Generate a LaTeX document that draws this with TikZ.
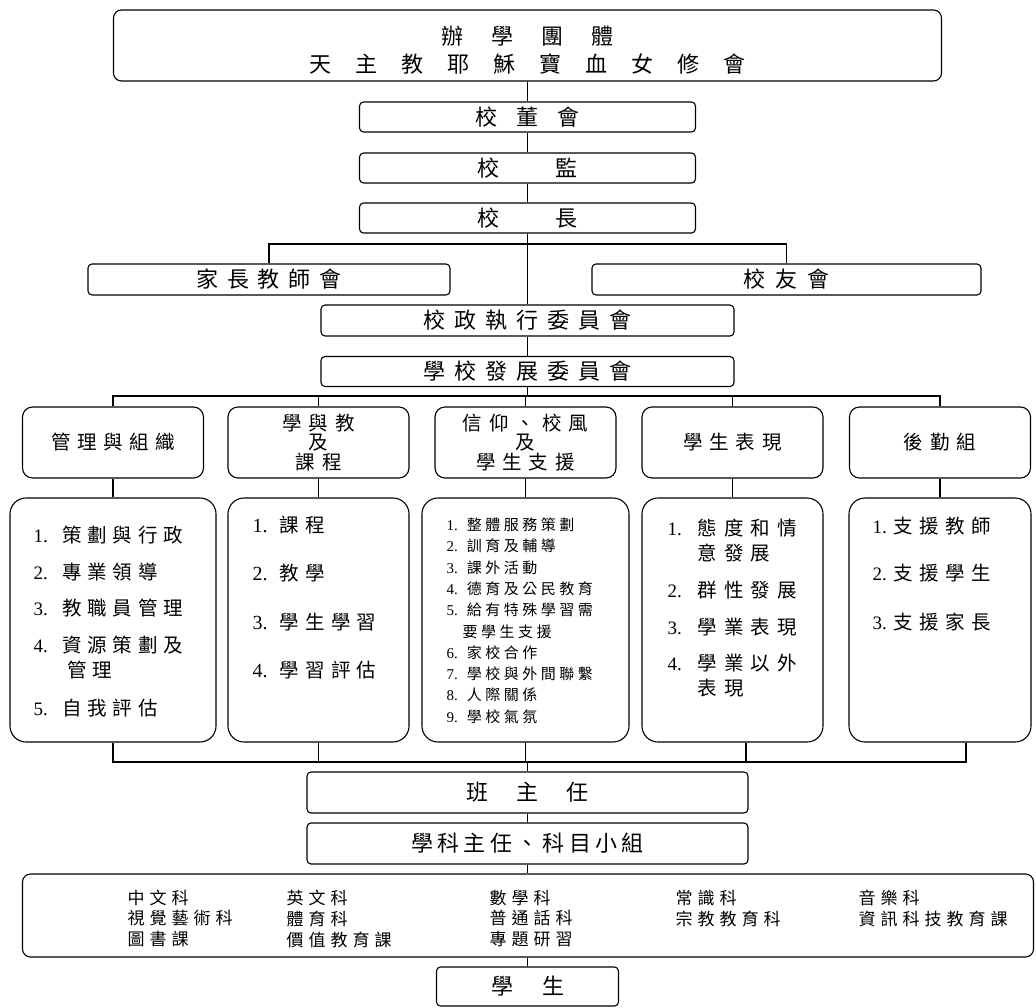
\documentclass[tikz,border=0pt]{standalone}
\usepackage{fontspec}
\newfontfamily\cjk{Noto Sans CJK TC}
\newfontfamily\digf{Liberation Serif}
\makeatletter
\newcommand\lsp[2]{\def\lsp@gap{\hspace{#1}}\lsp@first#2\lsp@end}
\def\lsp@end{}
\def\lsp@first#1{#1\lsp@next}
\def\lsp@next#1{\ifx#1\lsp@end\else\lsp@gap#1\expandafter\lsp@next\fi}
\makeatother
\newcommand\dg[2][19]{{\digf\fontsize{#1}{#1}\selectfont #2}}
\begin{document}
\begin{tikzpicture}[x=1pt,y=-1pt,line width=1.1pt,
 box/.style={draw, rounded corners=4pt, inner sep=0pt, font=\cjk\fontsize{22}{24}\selectfont},
 cat/.style={draw, rounded corners=10pt, inner sep=0pt, minimum width=181pt, minimum height=71pt, align=center, font=\cjk\fontsize{19.5}{19.5}\selectfont},
 det/.style={draw, rounded corners=16pt, inner sep=0pt, minimum height=244pt},
 it/.style={anchor=west, inner sep=0pt, font=\cjk\fontsize{19.5}{20}\selectfont},
 its/.style={anchor=west, inner sep=0pt, font=\cjk\fontsize{15}{16}\selectfont},
 sub/.style={anchor=west, inner sep=0pt, font=\cjk\fontsize{17}{18}\selectfont}]
\useasboundingbox (0,0) rectangle (1036,1007);
% top chain
\node[box, rounded corners=8pt, minimum width=828pt, minimum height=71pt] (org) at (527.5,45.5) {};
\node[inner sep=0pt, align=center, font=\cjk\fontsize{22}{28}\selectfont] (orgtxt) at (527.5,50) {\lsp{28pt}{辦學團體}\\\lsp{24pt}{天主教耶穌寶血女修會}};
\node[box, minimum width=336pt, minimum height=30pt] (board) at (527.5,117) {\lsp{19pt}{校董會}};
\node[box, minimum width=336pt, minimum height=30pt] (sup) at (527.5,168) {\lsp{56pt}{校監}};
\node[box, minimum width=336pt, minimum height=30pt] (prin) at (527.5,218) {\lsp{56pt}{校長}};
\node[box, minimum width=362pt, minimum height=31pt] (pta) at (269,279.5) {\lsp{9pt}{家長教師會}};
\node[box, minimum width=389pt, minimum height=31pt] (alum) at (786.5,279.5) {\lsp{10pt}{校友會}};
\node[box, minimum width=413pt, minimum height=31pt] (exec) at (527.5,320.5) {\lsp{9pt}{校政執行委員會}};
\node[box, minimum width=413pt, minimum height=30pt] (dev) at (527.5,371.5) {\lsp{9pt}{學校發展委員會}};
% categories
\node[cat] (c1) at (113,442.5) {\lsp{6.6pt}{管理與組織}};
\node[cat] (c2) at (318.5,442.5) {\lsp{7pt}{學與教}\\及\\\lsp{7.5pt}{課程}};
\node[cat] (c3) at (525.5,442.5) {\lsp{7pt}{信仰、校風}\\及\\\lsp{7pt}{學生支援}};
\node[cat] (c4) at (732.5,442.5) {\lsp{7pt}{學生表現}};
\node[cat] (c5) at (940,442.5) {\lsp{7pt}{後勤組}};
% detail boxes
\node[det, minimum width=206pt] (d1) at (113,620) {};
\node[det, minimum width=181pt] (d2) at (318.5,620) {};
\node[det, minimum width=207pt] (d3) at (525.5,620) {};
\node[det, minimum width=181pt] (d4) at (732.5,620) {};
\node[det, minimum width=182pt] (d5) at (940,620) {};
% bottom chain
\node[box, minimum width=441pt, minimum height=41pt] (cls) at (527.5,792.5) {\lsp{28.5pt}{班主任}};
\node[box, minimum width=441pt, minimum height=41pt] (shead) at (527.5,843.5) {\lsp{4.25pt}{學科主任、科目小組}};
\node[box, rounded corners=8pt, minimum width=1011pt, minimum height=83pt] (subj) at (528,915.5) {};
\node[box, minimum width=182pt, minimum height=39pt] (stu) at (527.5,986.5) {\lsp{29pt}{學生}};
% connectors
\coordinate (hb) at (527.5,244);
\coordinate (cb) at (527.5,396);
\coordinate (bb) at (527.5,762);
\coordinate (d4b) at ([xshift=13.5pt]d4.south);
\coordinate (d5b) at ([xshift=26pt]d5.south);
\draw (org) -- (board);
\draw (board) -- (sup);
\draw (sup) -- (prin);
\draw (prin) -- (exec);
\draw (exec) -- (dev);
\draw (pta.north) |- (hb) -| (alum.north);
\draw (dev) -- (cb);
\draw (c1.north) |- (cb) -| (c5.north);
\draw (c2.north) -- (c2.north |- cb);
\draw (c3.north) -- (c3.north |- cb);
\draw (c4.north) -- (c4.north |- cb);
\foreach \i in {1,...,5} {\draw (c\i) -- (d\i);}
\draw (d1.south) |- (bb) -| (d5b);
\draw (d2.south) -- (d2.south |- bb);
\draw (d3.south) -- (d3.south |- bb);
\draw (d4b) -- (d4b |- bb);
\draw (bb) -- (cls);
\draw (cls) -- (shead);
\draw (shead.south) -- (shead.south |- subj.north);
\draw (stu.north) -- (stu.north |- subj.south);
% box 1 text
\node[it] (t11) at (33,535) {\dg{1.}\hspace{15pt}\lsp{5.6pt}{策劃與行政}};
\node[it] (t12) at (33,572) {\dg{2.}\hspace{15pt}\lsp{5.6pt}{專業領導}};
\node[it] (t13) at (33,608) {\dg{3.}\hspace{15pt}\lsp{5.6pt}{教職員管理}};
\node[it] (t14) at (33,645) {\dg{4.}\hspace{15pt}\lsp{5.6pt}{資源策劃及}};
\node[it] (t14b) at (67,670) {\lsp{5.6pt}{管理}};
\node[it] (t15) at (33,708) {\dg{5.}\hspace{15pt}\lsp{5.6pt}{自我評估}};
% box 2 text
\node[it] (t21) at (252,525) {\dg[20]{1.}\hspace{12pt}\lsp{6.3pt}{課程}};
\node[it] (t22) at (252,573) {\dg[20]{2.}\hspace{12pt}\lsp{6.3pt}{教學}};
\node[it] (t23) at (252,622) {\dg[20]{3.}\hspace{12pt}\lsp{6.3pt}{學生學習}};
\node[it] (t24) at (252,670) {\dg[20]{4.}\hspace{12pt}\lsp{6.3pt}{學習評估}};
% box 3 text
\node[its] (t31) at (446,525) {\dg[15]{1.}\hspace{9pt}\lsp{3.5pt}{整體服務策劃}};
\node[its] (t32) at (446,546) {\dg[15]{2.}\hspace{9pt}\lsp{3.5pt}{訓育及輔導}};
\node[its] (t33) at (446,568) {\dg[15]{3.}\hspace{9pt}\lsp{3.5pt}{課外活動}};
\node[its] (t34) at (446,589) {\dg[15]{4.}\hspace{9pt}\lsp{3.5pt}{德育及公民教育}};
\node[its] (t35) at (446,610) {\dg[15]{5.}\hspace{9pt}\lsp{3.5pt}{給有特殊學習需}};
\node[its] (t35b) at (462,632) {\lsp{3.5pt}{要學生支援}};
\node[its] (t36) at (446,653) {\dg[15]{6.}\hspace{9pt}\lsp{3.5pt}{家校合作}};
\node[its] (t37) at (446,674) {\dg[15]{7.}\hspace{9pt}\lsp{3.5pt}{學校與外間聯繫}};
\node[its] (t38) at (446,695) {\dg[15]{8.}\hspace{9pt}\lsp{3.5pt}{人際關係}};
\node[its] (t39) at (446,717) {\dg[15]{9.}\hspace{9pt}\lsp{3.5pt}{學校氣氛}};
% box 4 text
\node[it] (t41) at (667,528) {\dg{1.}\hspace{16pt}\lsp{7pt}{態度和情}};
\node[it] (t41b) at (697,553) {\lsp{7pt}{意發展}};
\node[it] (t42) at (667,590) {\dg{2.}\hspace{16pt}\lsp{7pt}{群性發展}};
\node[it] (t43) at (667,627) {\dg{3.}\hspace{16pt}\lsp{7pt}{學業表現}};
\node[it] (t44) at (667,663) {\dg{4.}\hspace{16pt}\lsp{7pt}{學業以外}};
\node[it] (t44b) at (697,688) {\lsp{7pt}{表現}};
% box 5 text
\node[it] (t51) at (872,526) {\dg{1.}\hspace{7pt}\lsp{6.3pt}{支援教師}};
\node[it] (t52) at (872,573) {\dg{2.}\hspace{7pt}\lsp{6.3pt}{支援學生}};
\node[it] (t53) at (872,622) {\dg{3.}\hspace{7pt}\lsp{6.3pt}{支援家長}};
% subjects
\node[sub] (s11) at (127,898) {\lsp{5pt}{中文科}};
\node[sub] (s12) at (286,898) {\lsp{5pt}{英文科}};
\node[sub] (s13) at (489,898) {\lsp{5pt}{數學科}};
\node[sub] (s14) at (675,898) {\lsp{5pt}{常識科}};
\node[sub] (s15) at (858,898) {\lsp{5pt}{音樂科}};
\node[sub] (s21) at (127,918.5) {\lsp{5pt}{視覺藝術科}};
\node[sub] (s22) at (286,918.5) {\lsp{5pt}{體育科}};
\node[sub] (s23) at (489,918.5) {\lsp{5pt}{普通話科}};
\node[sub] (s24) at (675,918.5) {\lsp{5pt}{宗教教育科}};
\node[sub] (s25) at (858,918.5) {\lsp{5pt}{資訊科技教育課}};
\node[sub] (s31) at (127,939.5) {\lsp{5pt}{圖書課}};
\node[sub] (s32) at (286,939.5) {\lsp{5pt}{價值教育課}};
\node[sub] (s33) at (489,939.5) {\lsp{5pt}{專題研習}};
\end{tikzpicture}
\end{document}
